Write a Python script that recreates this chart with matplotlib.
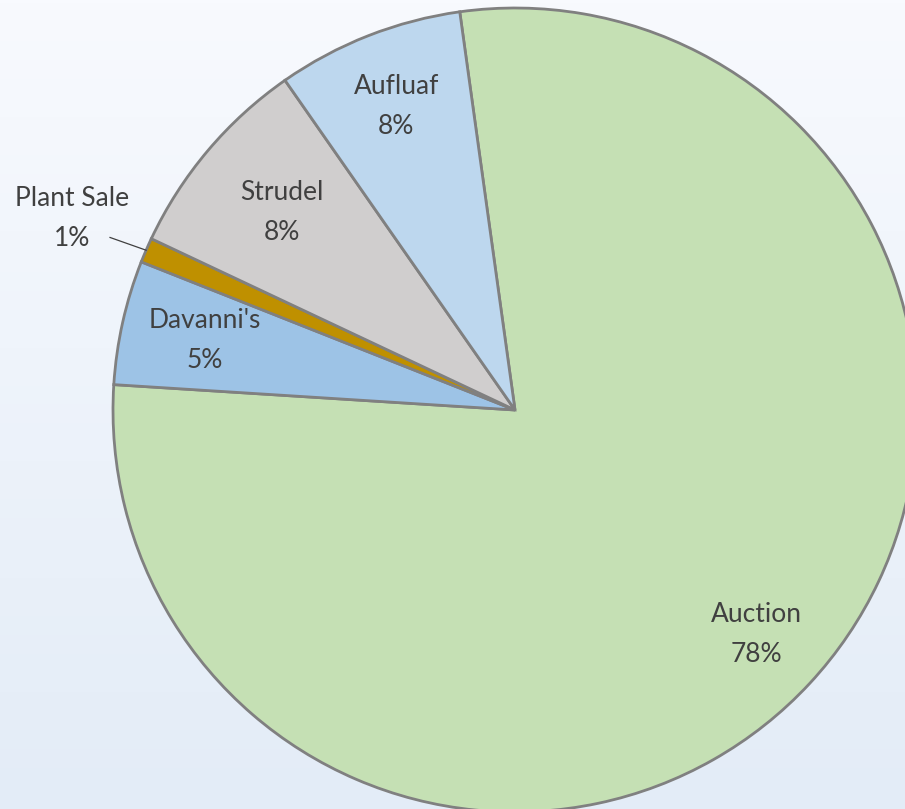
import numpy as np
import matplotlib
matplotlib.use('Agg')
import matplotlib.pyplot as plt
from matplotlib.colors import LinearSegmentedColormap

plt.rcParams['font.family'] = ['Lato', 'DejaVu Sans']

# 데이터 (시계방향, Auction부터)
labels = ['Auction', "Davanni's", 'Plant Sale', 'Strudel', 'Aufluaf']
values = [78.2, 5.0, 1.0, 8.3, 7.5]
pct_text = ['78%', '5%', '1%', '8%', '8%']
colors = ['#c5e0b4', '#9dc3e6', '#bf9000', '#d0cece', '#bdd7ee']
label_r = [0.82, 0.79, 1.20, 0.76, 0.81]

fig = plt.figure(figsize=(9.05, 8.09), dpi=100)

# 배경 그라데이션
bg = fig.add_axes([0, 0, 1, 1])
bg.axis('off')
cmap = LinearSegmentedColormap.from_list('bg', ['#f8fafe', '#e3ecf7'])
bg.imshow(np.linspace(0, 1, 256).reshape(-1, 1), aspect='auto', cmap=cmap,
          extent=[0, 1, 0, 1])

ax = fig.add_axes([0, 0, 1, 1])
ax.patch.set_alpha(0)
ax.axis('off')

wedges, _ = ax.pie(values, colors=colors, startangle=97.9, counterclock=False,
                   wedgeprops=dict(edgecolor='#808080', linewidth=2.0))

for w, lab, pct, r in zip(wedges, labels, pct_text, label_r):
    mid = np.deg2rad((w.theta1 + w.theta2) / 2)
    ax.text(r * np.cos(mid), r * np.sin(mid), lab + '\n' + pct,
            ha='center', va='center', fontsize=19, color='#404040',
            linespacing=1.75)
    if lab == 'Plant Sale':
        ax.plot([1.0 * np.cos(mid), 1.095 * np.cos(mid + 0.006)],
                [1.0 * np.sin(mid), 1.095 * np.sin(mid + 0.006)],
                color='#404040', linewidth=0.9)

ax.set_xlim(-515 / 402, 390 / 402)
ax.set_ylim(-399 / 402, 410 / 402)
ax.set_aspect('equal')

fig.savefig('out.png', dpi=100)
